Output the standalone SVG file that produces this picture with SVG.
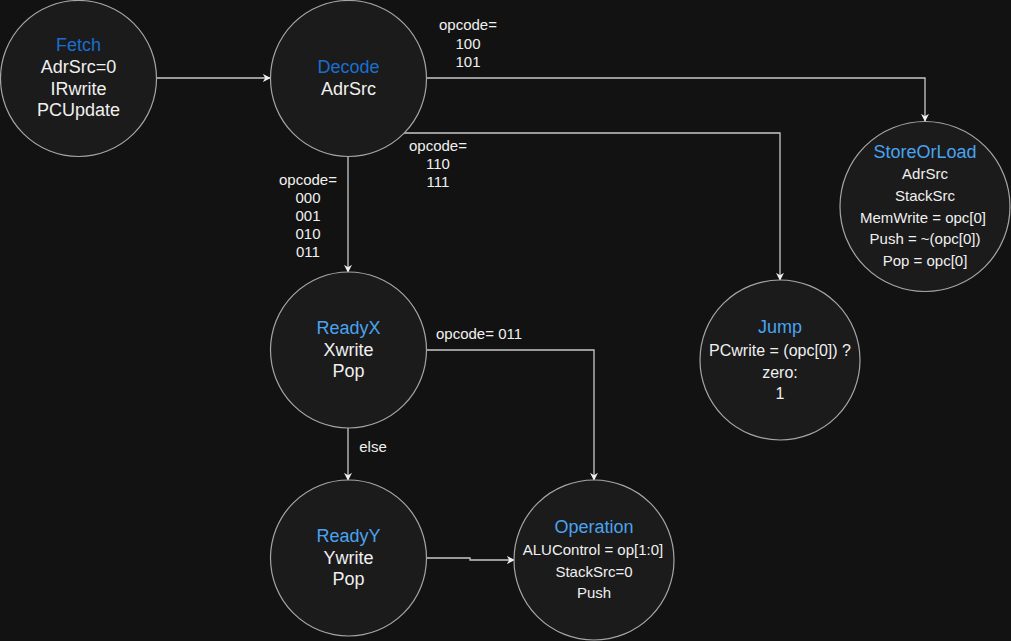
<svg xmlns="http://www.w3.org/2000/svg" width="1011" height="641" viewBox="0 0 1011 641">
<style>
.n{fill:#1b1b1b;stroke:#a6a6a6;stroke-width:1.2}
text{font-family:"Liberation Sans",Arial,sans-serif;fill:#f0f0f0;text-anchor:middle}
.t1{fill:#1a6ed0;font-size:18px}
.t2{fill:#4aa3f0;font-size:18px}
.b{font-size:18px}
.s{font-size:15px}
.m{font-size:15px}
.j{font-size:16px}
.c{fill:none;stroke:#c8c8c8;stroke-width:1.3}
.l{font-size:15px}
</style>
<defs>
<marker id="a" viewBox="0 0 10 10" refX="9" refY="5" markerWidth="8" markerHeight="8" orient="auto" markerUnits="userSpaceOnUse">
<path d="M0,0 L10,5 L0,10 L3,5 z" fill="#f0f0f0"/>
</marker>
</defs>
<rect width="1011" height="641" fill="#121212"/>
<g id="connectors">
<path class="c" d="M157,78 H270" marker-end="url(#a)"/>
<path class="c" d="M427,78 H925 V121" marker-end="url(#a)"/>
<path class="c" d="M403,133 H780 V280" marker-end="url(#a)"/>
<path class="c" d="M348,157 V272" marker-end="url(#a)"/>
<path class="c" d="M427,350 H594 V480" marker-end="url(#a)"/>
<path class="c" d="M348,428 V480" marker-end="url(#a)"/>
<path class="c" d="M427,558 H470 V560 H514" marker-end="url(#a)"/>
<text class="l" x="468" y="30">opcode=</text>
<text class="l" x="468" y="49">100</text>
<text class="l" x="468" y="67">101</text>
<text class="l" x="438" y="151">opcode=</text>
<text class="l" x="438" y="169">110</text>
<text class="l" x="438" y="187">111</text>
<text class="l" x="308" y="185">opcode=</text>
<text class="l" x="308" y="203">000</text>
<text class="l" x="308" y="221">001</text>
<text class="l" x="308" y="239">010</text>
<text class="l" x="308" y="257">011</text>
<text class="l" x="436" y="339" style="text-anchor:start">opcode= 011</text>
<text class="l" x="373" y="452">else</text>
</g>
<g id="fetch">
<circle class="n" cx="78.5" cy="78.5" r="78"/>
<text class="t1" x="78.5" y="51">Fetch</text>
<text class="b" x="78.5" y="73">AdrSrc=0</text>
<text class="b" x="78.5" y="95">IRwrite</text>
<text class="b" x="78.5" y="116">PCUpdate</text>
</g>
<g id="decode">
<circle class="n" cx="348.5" cy="78.5" r="78"/>
<text class="t1" x="348.5" y="73">Decode</text>
<text class="b" x="348.5" y="95">AdrSrc</text>
</g>
<g id="storeorload">
<circle class="n" cx="925" cy="206.5" r="85"/>
<text class="t2" x="925" y="158">StoreOrLoad</text>
<text class="s" x="925" y="179">AdrSrc</text>
<text class="s" x="925" y="201">StackSrc</text>
<text class="s" x="923" y="223">MemWrite = opc[0]</text>
<text class="s" x="925" y="244">Push = ~(opc[0])</text>
<text class="s" x="925" y="266">Pop = opc[0]</text>
</g>
<g id="jump">
<circle class="n" cx="780" cy="360" r="80"/>
<text class="t2" x="780" y="333">Jump</text>
<text class="j" x="780" y="356">PCwrite = (opc[0]) ?</text>
<text class="j" x="780" y="378">zero:</text>
<text class="j" x="780" y="399">1</text>
</g>
<g id="readyx">
<circle class="n" cx="348.5" cy="350" r="78"/>
<text class="t2" x="348.5" y="334">ReadyX</text>
<text class="b" x="348.5" y="356">Xwrite</text>
<text class="b" x="348.5" y="377">Pop</text>
</g>
<g id="readyy">
<circle class="n" cx="348.5" cy="558" r="78"/>
<text class="t2" x="348.5" y="542">ReadyY</text>
<text class="b" x="348.5" y="564">Ywrite</text>
<text class="b" x="348.5" y="585">Pop</text>
</g>
<g id="operation">
<circle class="n" cx="594" cy="560" r="80"/>
<text class="t2" x="594" y="533">Operation</text>
<text class="m" x="593" y="555">ALUControl = op[1:0]</text>
<text class="m" x="594" y="577">StackSrc=0</text>
<text class="m" x="594" y="598">Push</text>
</g>
</svg>
